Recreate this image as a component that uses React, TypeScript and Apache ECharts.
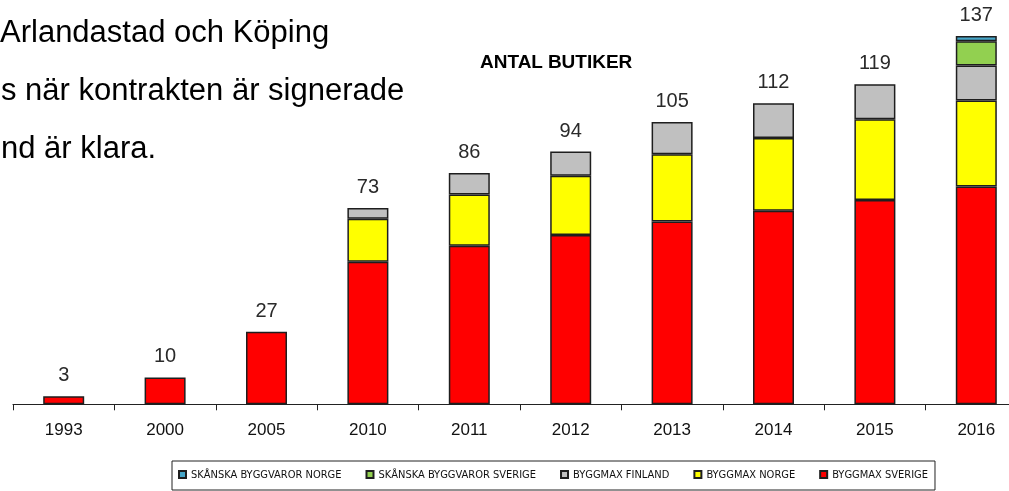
import React, { useEffect, useRef } from "react";
import * as echarts from "echarts";

const years = ["1993", "2000", "2005", "2010", "2011", "2012", "2013", "2014", "2015", "2016"];
const byggmaxSverige = [3, 10, 27, 53, 59, 63, 68, 72, 76, 81];
const byggmaxNorge = [null, null, null, 16, 19, 22, 25, 27, 30, 32];
const byggmaxFinland = [null, null, null, 4, 8, 9, 12, 13, 13, 13];
const skanskaSverige = [null, null, null, null, null, null, null, null, null, 9];
const skanskaNorge = [null, null, null, null, null, null, null, null, null, 2];
const totals = [3, 10, 27, 73, 86, 94, 105, 112, 119, 137];

const legendNames = [
  "SKÅNSKA BYGGVAROR NORGE",
  "SKÅNSKA BYGGVAROR SVERIGE",
  "BYGGMAX FINLAND",
  "BYGGMAX NORGE",
  "BYGGMAX SVERIGE",
];

const introLines = [
  "Arlandastad och Köping",
  "s när kontrakten är signerade",
  "nd är klara.",
];

export default function App() {
  const ref = useRef<HTMLDivElement>(null);
  useEffect(() => {
    if (!ref.current) return;
    const chart = echarts.init(ref.current, null, { renderer: "svg" });
    const border = { borderColor: "#1e1e1e", borderWidth: 1.5 };
    const mk = (name: string, data: (number | null)[], color: string) => ({
      name,
      type: "bar",
      stack: "total",
      data,
      barWidth: 41,
      itemStyle: { color, ...border },
    });
    chart.setOption({
      animation: false,
      grid: { left: 13, width: 1014, top: 1, height: 403.3, outerBoundsMode: "none", containLabel: false },
      xAxis: {
        type: "category",
        data: years,
        axisLine: { lineStyle: { color: "#222", width: 1.2 } },
        axisTick: { show: true, length: 6, lineStyle: { color: "#222" } },
        axisLabel: { fontSize: 17, color: "#111", margin: 17, fontFamily: "Liberation Sans, Arial, sans-serif" },
      },
      yAxis: { type: "value", min: 0, max: 150, show: false, splitLine: { show: false } },
      legend: {
        data: legendNames,
        left: 172,
        top: 461,
        borderColor: "#222",
        borderWidth: 1,
        padding: [8, 7, 10, 6],
        itemWidth: 7,
        itemHeight: 7,
        itemGap: 24,
        icon: "rect",
        textStyle: { fontSize: 11, color: "#111", fontFamily: "Liberation Sans Narrow, DejaVu Sans Condensed, Liberation Sans, sans-serif" },
      },
      series: [
        mk("BYGGMAX SVERIGE", byggmaxSverige, "#ff0000"),
        mk("BYGGMAX NORGE", byggmaxNorge, "#ffff00"),
        mk("BYGGMAX FINLAND", byggmaxFinland, "#c0c0c0"),
        mk("SKÅNSKA BYGGVAROR SVERIGE", skanskaSverige, "#92d050"),
        mk("SKÅNSKA BYGGVAROR NORGE", skanskaNorge, "#46a6c8"),
        {
          name: "total",
          type: "bar",
          data: totals,
          barWidth: 41,
          barGap: "-100%",
          silent: true,
          itemStyle: { color: "rgba(0,0,0,0)" },
          label: {
            show: true,
            position: "top",
            distance: 12,
            fontSize: 20,
            color: "#2a2a2a",
            fontFamily: "Liberation Sans, Arial, sans-serif",
          },
          z: 1,
        },
      ],
      graphic: [
        {
          type: "text",
          left: 480,
          top: 52,
          style: {
            text: "ANTAL BUTIKER",
            fontSize: 19,
            fontWeight: "bold",
            fill: "#000",
            fontFamily: "Liberation Sans, Arial, sans-serif",
          },
        },
        ...introLines.map((t, i) => ({
          type: "text",
          x: i === 0 ? 0 : 1,
          y: [47, 105, 163][i],
          style: {
            text: t,
            fontSize: 31,
            fill: "#000",
            textVerticalAlign: "bottom",
            fontFamily: "Liberation Sans, Arial, sans-serif",
          },
        })),
      ],
    });
    return () => chart.dispose();
  }, []);
  return <div ref={ref} style={{ position: "fixed", left: 0, top: 0, width: 1009, height: 491 }} />;
}
